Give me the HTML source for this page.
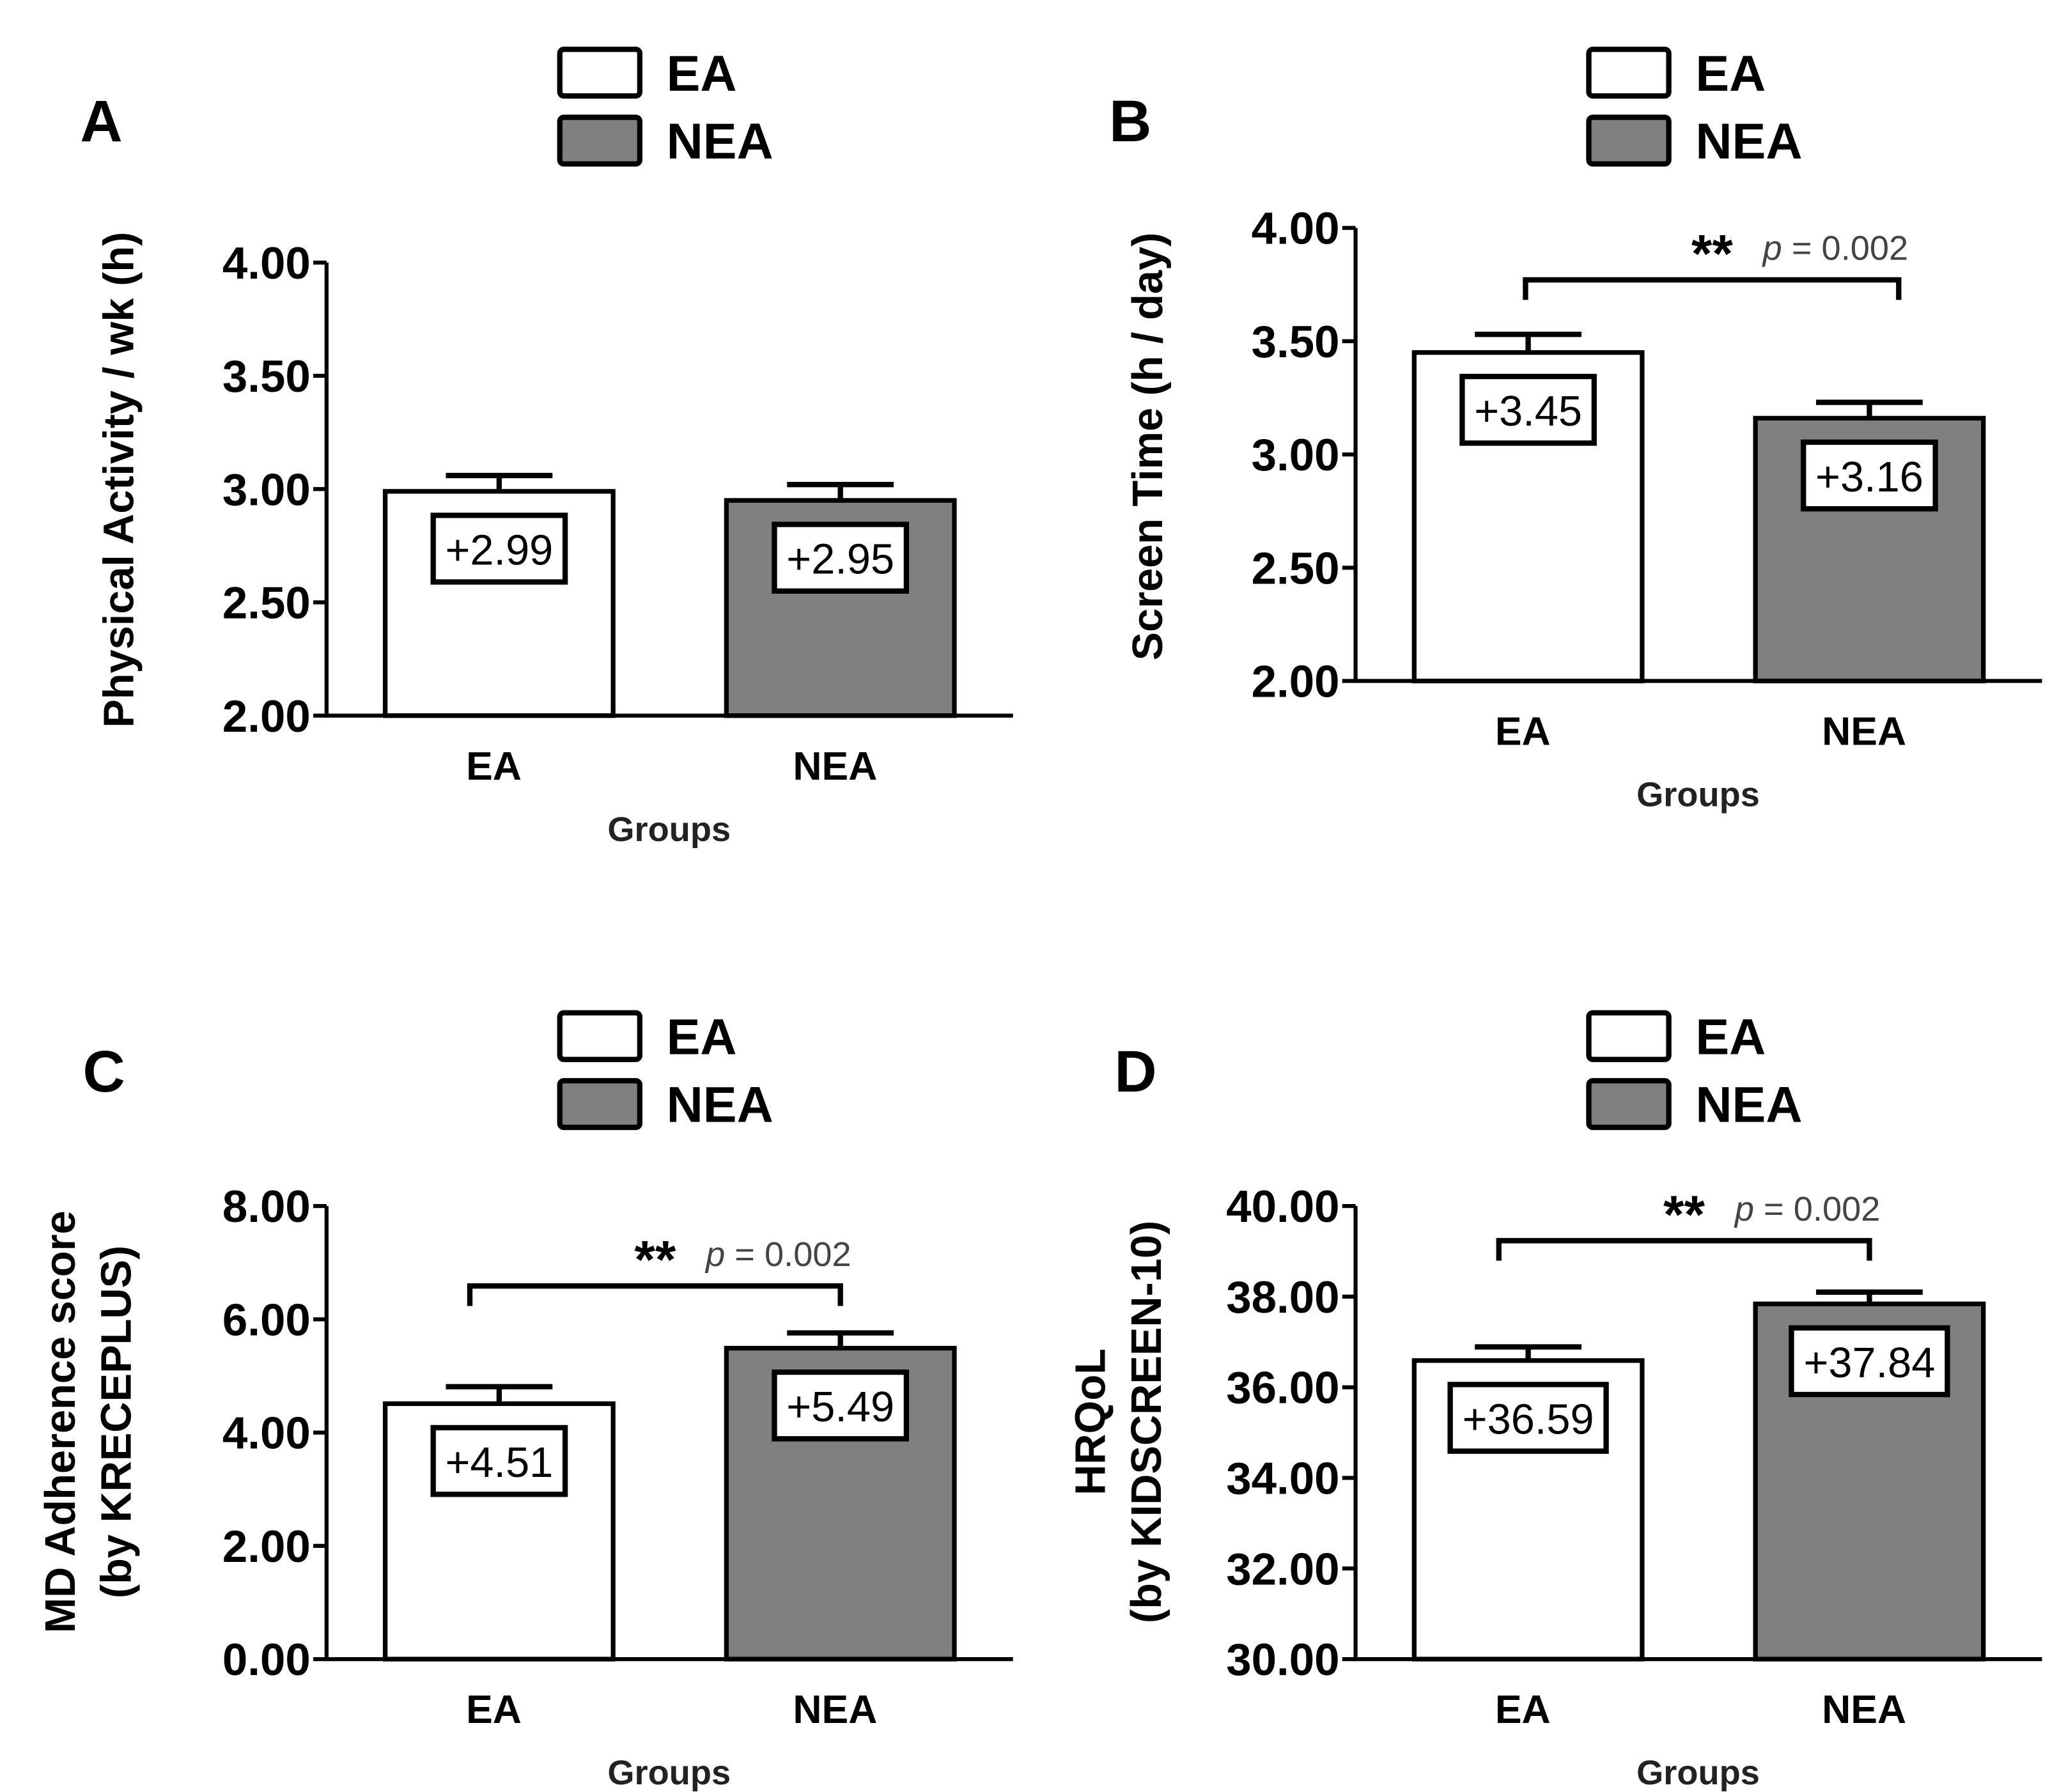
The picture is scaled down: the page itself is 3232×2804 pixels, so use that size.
<!DOCTYPE html>
<html><head><meta charset="utf-8"><style>
html,body{margin:0;padding:0;background:#fff}
svg{display:block}
text{font-family:"Liberation Sans",Arial,sans-serif}
</style></head><body>
<svg id="fig" xmlns="http://www.w3.org/2000/svg" width="3232" height="2804" viewBox="0 0 1550 1344.7"></svg>
<script>
const NS='http://www.w3.org/2000/svg';
const svg=document.getElementById('fig');
// ---- data ----
const categories=['EA','NEA'];
const valuesA=[2.99,2.95]; const errorsA=[0.07,0.07];
const valuesB=[3.45,3.16]; const errorsB=[0.08,0.07];
const valuesC=[4.51,5.49]; const errorsC=[0.30,0.27];
const valuesD=[36.59,37.84]; const errorsD=[0.30,0.26];
const labelsA=['+2.99','+2.95'];
const labelsB=['+3.45','+3.16'];
const labelsC=['+4.51','+5.49'];
const labelsD=['+36.59','+37.84'];
const ticksA=[2.00,2.50,3.00,3.50,4.00];
const ticksB=[2.00,2.50,3.00,3.50,4.00];
const ticksC=[0,2,4,6,8];
const ticksD=[30,32,34,36,38,40];

function el(tag,attrs,parent,txt){const e=document.createElementNS(NS,tag);for(const k in attrs)e.setAttribute(k,attrs[k]);if(txt!==undefined)e.textContent=txt;(parent||svg).appendChild(e);return e;}

function panel(cfg){
  const g=el('g',{});
  
  
  const ax=cfg.ax, y0=cfg.y0, y1=cfg.y1, min=cfg.ticks[0], max=cfg.ticks[cfg.ticks.length-1];
  const Y=v=>y0-(v-min)/(max-min)*(y0-y1);
  const bw=171, bx=[ax+44, ax+300];
  const L=el('text',{x:cfg.lx,y:cfg.ly,'font-size':44,'font-weight':'bold','text-anchor':'middle'},g,cfg.letter);
  
  
  [['#fff','EA',0],['#808080','NEA',51]].forEach(([f,t,dy])=>{
    const r=el('rect',{x:ax+175,y:cfg.legY+dy,width:60,height:35,rx:3,fill:f,stroke:'#000','stroke-width':4},g);
    
    
    const tx=el('text',{x:ax+255,y:cfg.legY+dy+31,'font-size':38,'font-weight':'bold'},g,t);
    
    
  });
  cfg.values.forEach((v,i)=>{
    const top=Y(v);
    const b=el('rect',{x:bx[i],y:top,width:bw,height:y0-top,fill:i?'#808080':'#fff',stroke:'#000','stroke-width':3.5},g);
    
    
    const cx=bx[i]+bw/2, ey=Y(v+cfg.errors[i]);
    const e=el('path',{d:`M${cx},${top}V${ey}M${cx-40},${ey}H${cx+40}`,stroke:'#000','stroke-width':4,fill:'none'},g);
    
    
    const lw=cfg.boxW, by=top+18;
    const bx2=el('rect',{x:cx-lw/2,y:by,width:lw,height:50,fill:'#fff',stroke:'#000','stroke-width':4},g);
    
    
    const vt=el('text',{x:cx,y:by+37,'font-size':32,'text-anchor':'middle'},g,cfg.labels[i]);
    
    
    const xl=el('text',{x:cx-4,y:y0+48,'font-size':30,'font-weight':'bold','text-anchor':'middle'},g,categories[i]);
    
    
  });
  const a=el('path',{d:`M${ax},${y1}V${y0}H${ax+515}`,stroke:'#000','stroke-width':3,fill:'none'},g);
  
  
  cfg.ticks.forEach(t=>{
    const y=Y(t);
    el('line',{x1:ax-10,x2:ax,y1:y,y2:y,stroke:'#000','stroke-width':3},g);
    const tl=el('text',{x:ax-12,y:y+12,'font-size':34,'font-weight':'bold','text-anchor':'end'},g,t.toFixed(2));
    
    
  });
  const gx=el('text',{x:ax+257,y:y0+94,'font-size':26,'font-weight':'bold','text-anchor':'middle','fill':'#222'},g,'Groups');
  
  
  cfg.ytitle.forEach((t,k)=>{
    const tx=cfg.tx+k*42;
    const yt=el('text',{x:tx,y:cfg.ty,'font-size':32,'font-weight':'bold','text-anchor':'middle',transform:`rotate(-90 ${tx} ${cfg.ty})`},g,t);
    
    
  });
  if(cfg.sig){
    const c0=bx[0]+bw/2+cfg.sigL, c1=bx[1]+bw/2+cfg.sigR, by=cfg.sigY;
    const br=el('path',{d:`M${c0},${by+15}V${by}H${c1}V${by+15}`,stroke:'#000','stroke-width':4,fill:'none'},g);
    
    
    const st=el('text',{x:(c0+c1)/2,y:by-6,'font-size':40,'font-weight':'bold','text-anchor':'middle'},g,'**');
    
    
    const pt=el('text',{x:(c0+c1)/2+38,y:by-15,'font-size':26,'font-family':'Liberation Serif,serif','fill':'#444'},g);
    
    
    el('tspan',{'font-style':'italic'},pt,'p');
    el('tspan',{},pt,' = 0.002');
  }
}
panel({letter:'A',lx:76,ly:106,ax:245,y0:537,y1:197,legY:37,ticks:ticksA,values:valuesA,errors:errorsA,labels:labelsA,boxW:99,ytitle:['Physical Activity / wk (h)'],tx:100,ty:360});
panel({letter:'B',lx:848,ly:106,ax:1017,y0:511,y1:171,legY:37,ticks:ticksB,values:valuesB,errors:errorsB,labels:labelsB,boxW:99,ytitle:['Screen Time (h / day)'],tx:872,ty:335,sig:true,sigY:210,sigL:-2,sigR:22});
panel({letter:'C',lx:78,ly:819,ax:245,y0:1245,y1:905,legY:760,ticks:ticksC,values:valuesC,errors:errorsC,labels:labelsC,boxW:99,ytitle:['MD Adherence score','(by KRECEPLUS)'],tx:56,ty:1067,sig:true,sigY:965,sigL:-22,sigR:0});
panel({letter:'D',lx:852,ly:819,ax:1017,y0:1245,y1:905,legY:760,ticks:ticksD,values:valuesD,errors:errorsD,labels:labelsD,boxW:117,ytitle:['HRQoL','(by KIDSCREEN-10)'],tx:829,ty:1067,sig:true,sigY:931,sigL:-22,sigR:0});
</script>
</body></html>
